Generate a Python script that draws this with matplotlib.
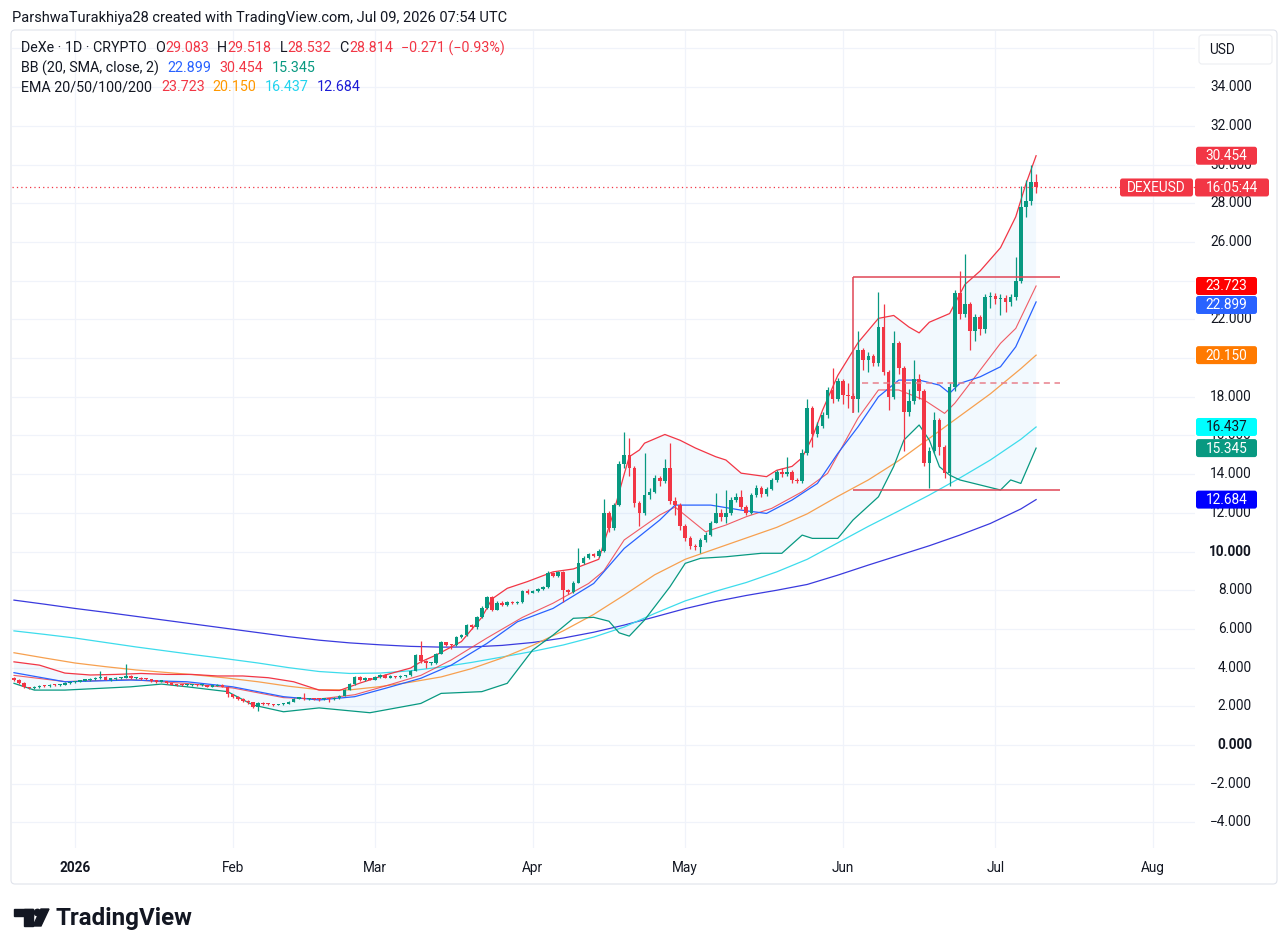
import numpy as np
import matplotlib
matplotlib.use("Agg")
import matplotlib.pyplot as plt
import matplotlib.transforms as mtransforms
from matplotlib.patches import FancyBboxPatch, Rectangle, Circle, Polygon

plt.rcParams['font.family'] = ['Roboto', 'DejaVu Sans']

W, H = 1288, 952
UP, DOWN = '#089981', '#f23645'
TXT = '#131722'

# daily candles, day 0 = 1 Jan 2026 (first candle 20 Dec 2025, last 9 Jul 2026)
first_day = -12
first_open = 3.45
closes = [
    # Dec
    3.38, 3.22, 2.98, 2.94, 3.00, 3.05, 3.03, 3.10, 3.08, 3.12, 3.20, 3.26,
    # Jan
    3.28, 3.33, 3.35, 3.40, 3.45, 3.50, 3.38, 3.40, 3.45, 3.48, 3.55, 3.45, 3.47, 3.42, 3.40, 3.30,
    3.28, 3.30, 3.20, 3.12, 3.10, 3.08, 3.10, 3.12, 3.08, 3.10, 3.02, 3.05, 3.12, 3.02, 2.62,
    # Feb
    2.50, 2.38, 2.28, 2.20, 1.95, 2.18, 2.12, 2.10, 2.08, 2.10, 2.12, 2.22, 2.40, 2.45,
    2.38, 2.40, 2.38, 2.36, 2.40, 2.38, 2.42, 2.55, 2.85, 3.15, 3.50, 3.35, 3.45, 3.38,
    # Mar
    3.52, 3.62, 3.48, 3.55, 3.50, 3.58, 3.60, 3.85, 4.65, 4.32, 4.22, 4.25, 4.72, 5.30, 5.18, 5.15,
    5.60, 5.70, 6.20, 6.08, 6.60, 7.10, 7.65, 7.00, 7.35, 7.25, 7.40, 7.35, 7.40, 7.95, 7.88,
    # Apr
    7.95, 8.05, 8.15, 8.90, 8.75, 8.92, 8.00, 7.92, 8.40, 9.40, 9.65, 9.85, 9.78, 10.05, 12.00,
    11.20, 12.40, 14.50, 15.00, 14.30, 12.50, 12.00, 12.90, 13.10, 13.80, 13.65, 14.30, 12.60, 12.40, 11.30,
    # May
    10.70, 10.30, 10.25, 10.60, 10.85, 11.50, 12.00, 11.80, 12.00, 12.65, 12.80, 12.30, 12.00, 12.90, 13.30,
    12.95, 13.25, 13.70, 14.10, 14.00, 14.10, 13.70, 13.65, 15.10, 17.40, 16.10, 16.50, 17.05, 18.35, 17.90, 18.80,
    # Jun
    18.10, 18.05, 17.90, 20.40, 19.90, 20.10, 19.75, 21.60, 19.30, 18.00, 20.80, 19.50, 17.20, 17.80, 18.90,
    18.30, 14.60, 15.20, 16.80, 15.40, 14.05, 18.50, 23.35, 22.30, 22.80, 21.40, 22.10, 21.50, 23.15, 23.20,
    # Jul
    23.05, 23.10, 22.90, 23.17, 24.00, 27.80, 28.10, 29.083, 28.814,
]
highs = [
    3.50, 3.40, 3.24, 3.02, 3.05, 3.10, 3.08, 3.14, 3.13, 3.16, 3.24, 3.30,
    3.33, 3.36, 3.40, 3.44, 3.50, 3.82, 3.55, 3.45, 3.50, 3.52, 4.18, 3.60, 3.52, 3.50, 3.45, 3.42,
    3.34, 3.35, 3.32, 3.22, 3.15, 3.13, 3.14, 3.17, 3.14, 3.14, 3.12, 3.09, 3.16, 3.14, 3.05,
    2.66, 2.53, 2.41, 2.31, 2.23, 2.22, 2.21, 2.15, 2.13, 2.14, 2.16, 2.26, 2.44, 2.50,
    2.70, 2.44, 2.43, 2.41, 2.44, 2.42, 2.46, 2.59, 2.90, 3.20, 3.56, 3.55, 3.50, 3.48,
    3.56, 3.66, 3.65, 3.60, 3.58, 3.62, 3.64, 3.90, 4.72, 5.40, 4.40, 4.30, 4.78, 5.36, 5.35, 5.22,
    5.65, 5.76, 6.28, 6.25, 6.66, 7.18, 7.72, 7.68, 7.42, 7.45, 7.46, 7.45, 7.45, 8.02, 8.05,
    8.02, 8.10, 8.22, 8.98, 8.95, 9.00, 8.98, 8.05, 8.48, 10.20, 9.75, 9.92, 9.95, 10.12, 12.70,
    12.10, 12.50, 14.70, 16.20, 15.85, 14.40, 12.60, 15.10, 13.30, 13.95, 13.90, 14.80, 15.60, 12.80, 12.50,
    11.40, 10.80, 10.40, 10.70, 11.00, 11.60, 13.00, 12.20, 13.20, 12.80, 13.00, 13.20, 12.40, 13.00, 13.45,
    13.40, 13.35, 13.80, 14.20, 14.30, 14.90, 14.20, 13.80, 15.30, 17.90, 17.50, 16.70, 17.20, 18.50, 19.50, 18.95,
    18.90, 18.70, 18.20, 21.40, 20.50, 20.30, 20.20, 23.40, 22.80, 19.40, 21.40, 20.90, 19.60, 18.40, 19.90,
    19.20, 18.40, 15.40, 17.20, 16.90, 15.50, 18.70, 23.50, 24.50, 25.40, 22.90, 22.30, 22.20, 23.30, 23.40,
    23.35, 23.30, 23.25, 23.30, 25.20, 28.90, 29.20, 29.97, 29.518,
]
lows = [
    3.33, 3.18, 2.95, 2.88, 2.90, 2.97, 2.99, 3.00, 3.04, 3.05, 3.10, 3.17,
    3.22, 3.25, 3.30, 3.33, 3.38, 3.42, 3.34, 3.33, 3.37, 3.42, 3.45, 3.42, 3.40, 3.38, 3.35, 3.27,
    3.22, 3.24, 3.17, 3.08, 3.05, 3.03, 3.04, 3.06, 3.04, 3.05, 2.98, 3.00, 3.03, 2.98, 2.50,
    2.44, 2.33, 2.22, 2.14, 1.90, 1.78, 2.07, 2.05, 2.03, 2.05, 2.07, 2.10, 2.20, 2.38,
    2.34, 2.33, 2.32, 2.28, 2.33, 2.20, 2.35, 2.40, 2.52, 2.82, 3.12, 3.30, 3.32, 3.34,
    3.35, 3.48, 3.44, 3.45, 3.46, 3.47, 3.54, 3.57, 3.82, 4.25, 4.00, 4.15, 4.20, 4.70, 5.12, 4.95,
    5.10, 5.55, 5.66, 6.00, 6.02, 6.55, 7.05, 6.95, 6.98, 7.18, 7.20, 7.30, 7.30, 7.35, 7.82,
    7.85, 7.90, 8.00, 8.12, 8.68, 8.70, 7.40, 7.80, 7.88, 8.35, 9.35, 9.60, 9.70, 9.72, 10.00,
    11.00, 11.10, 12.35, 14.30, 13.90, 12.30, 11.30, 11.90, 12.70, 13.00, 13.40, 13.55, 12.45, 11.90, 11.10,
    10.55, 10.15, 10.10, 9.90, 10.50, 10.80, 11.45, 11.60, 11.50, 11.90, 12.55, 12.20, 11.90, 11.95, 12.80,
    12.80, 12.85, 13.20, 13.60, 13.85, 13.90, 13.55, 13.55, 13.55, 15.00, 15.40, 15.90, 16.40, 16.90, 17.70, 17.80,
    17.60, 17.40, 17.20, 17.20, 19.40, 19.30, 19.60, 19.60, 19.10, 17.30, 17.90, 19.20, 15.20, 17.00, 17.60,
    17.90, 14.40, 13.30, 15.10, 15.00, 13.80, 13.40, 18.30, 22.00, 22.10, 20.40, 20.90, 21.20, 21.30, 22.60,
    22.80, 22.20, 22.40, 22.70, 23.00, 23.90, 27.30, 27.90, 28.532,
]

# Bollinger Bands (20, 2)
bb_up_days = [-12, -7, -2, 3, 8, 13, 18, 23, 28, 33, 38, 43, 48, 52, 56, 61, 66, 68, 71, 76, 80, 82, 85,
              89, 94, 98, 103, 106, 108, 109, 111, 112, 116, 119, 122, 126, 128, 131, 136, 138, 141, 143,
              145, 147, 150, 154, 158, 161, 164, 166, 168, 172, 175, 178, 182, 185, 187, 189]
bb_up = [4.30, 4.13, 3.72, 3.62, 3.65, 3.70, 3.65, 3.65, 3.57, 3.57, 3.48, 3.27, 2.84, 2.82, 3.20, 3.62,
         3.98, 4.30, 4.65, 5.35, 6.60, 7.55, 8.10, 8.45, 8.95, 9.10, 9.60, 12.10, 14.00, 14.90, 15.25,
         15.60, 16.05, 15.75, 15.35, 14.90, 14.73, 14.05, 13.87, 14.20, 14.40, 14.85, 15.90, 17.30,
         19.10, 20.80, 22.05, 22.20, 21.60, 21.30, 21.85, 22.30, 23.80, 24.50, 25.70, 27.30, 29.00, 30.454]
bb_mid_days = [-12, -2, 11, 22, 31, 41, 48, 55, 61, 68, 74, 81, 87, 94, 102, 108, 115, 118, 125, 131,
               136, 141, 146, 150, 154, 158, 162, 166, 170, 172, 174, 178, 182, 185, 189]
bb_mid = [3.74, 3.27, 3.36, 3.27, 3.01, 2.50, 2.33, 2.50, 2.93, 3.45, 4.13, 5.25, 6.37, 7.06, 8.35,
          10.16, 11.63, 12.40, 12.40, 12.14, 11.97, 12.66, 13.52, 15.07, 16.45, 18.00, 18.86, 18.86,
          18.60, 18.18, 18.69, 19.03, 19.55, 20.58, 22.899]
bb_lo_days = [-12, -8, -2, 11, 17, 22, 30, 35, 41, 48, 58, 68, 72, 80, 85, 90, 94, 98, 102, 105, 107,
              109, 112, 117, 120, 123, 128, 135, 139, 143, 145, 150, 153, 158, 161, 163, 166, 168, 170,
              172, 174, 178, 182, 184, 186, 189]
bb_lo = [3.19, 2.84, 2.84, 3.01, 3.15, 3.01, 2.76, 2.07, 1.72, 1.92, 1.67, 2.15, 2.67, 2.76, 3.19, 4.91,
         5.68, 6.55, 6.60, 6.40, 5.80, 5.63, 6.46, 8.18, 9.39, 9.65, 9.73, 9.91, 9.91, 10.85, 10.68,
         10.68, 11.63, 12.83, 14.40, 15.76, 16.54, 15.76, 14.38, 13.95, 13.70, 13.44, 13.18, 13.70,
         13.52, 15.345]

# EMA 20/50/100/200
ema20_days = [-12, -2, 11, 22, 31, 41, 48, 55, 61, 68, 74, 81, 88, 94, 101, 104, 108, 115, 118, 124,
              128, 132, 137, 143, 148, 150, 154, 158, 162, 167, 171, 173, 177, 182, 185, 189]
ema20 = [3.60, 3.28, 3.38, 3.18, 2.95, 2.45, 2.38, 2.60, 3.05, 3.60, 4.40, 5.53, 6.60, 7.33, 8.35, 9.00,
         10.60, 11.89, 12.30, 11.02, 11.37, 11.80, 12.23, 13.09, 14.04, 15.00, 16.90, 18.35, 18.35,
         17.83, 17.14, 17.66, 19.03, 20.76, 21.53, 23.723]
ema_days = [-12, -6, 0, 6, 12, 18, 24, 30, 36, 42, 48, 54, 60, 66, 72, 78, 84, 90, 96, 102, 108, 114,
            120, 126, 132, 138, 144, 150, 156, 162, 168, 174, 180, 186, 189]
ema50 = [4.77, 4.50, 4.24, 4.05, 3.88, 3.75, 3.62, 3.46, 3.27, 3.04, 2.86, 2.85, 3.02, 3.25, 3.52, 3.95,
         4.50, 5.15, 5.90, 6.75, 7.75, 8.80, 9.60, 10.15, 10.70, 11.25, 11.95, 12.85, 13.70, 14.70, 15.85,
         17.00, 18.15, 19.45, 20.150]
ema100 = [5.90, 5.72, 5.53, 5.30, 5.07, 4.86, 4.65, 4.45, 4.24, 4.00, 3.80, 3.70, 3.72, 3.84, 4.03, 4.27,
          4.55, 4.84, 5.17, 5.58, 6.10, 6.80, 7.45, 7.95, 8.40, 8.95, 9.60, 10.45, 11.30, 12.10, 12.92,
          13.80, 14.73, 15.80, 16.437]
ema200 = [7.49, 7.28, 7.06, 6.86, 6.65, 6.44, 6.23, 6.02, 5.81, 5.60, 5.42, 5.28, 5.18, 5.10, 5.06, 5.07,
          5.15, 5.30, 5.53, 5.83, 6.20, 6.62, 7.05, 7.42, 7.73, 8.00, 8.30, 8.78, 9.30, 9.80, 10.30,
          10.85, 11.45, 12.20, 12.684]

# drawn range box (Jun breakout)
box_start, box_end = 152.9, 193.7
box_top, box_bottom, box_mid = 24.19, 13.18, 18.69
box_side_low = 17.16
box_mid_start = 154.8

month_days = [0, 31, 59, 90, 120, 151, 181, 212]
month_labels = ['2026', 'Feb', 'Mar', 'Apr', 'May', 'Jun', 'Jul', 'Aug']
price_ticks = list(range(-4, 36, 2))
hidden_ticks = [20, 24]   # fully covered by the EMA labels on the scale

# ---------------------------------------------------------------------------
closes = np.array(closes)
highs = np.array(highs)
lows = np.array(lows)
days = np.arange(first_day, first_day + len(closes))
opens = np.r_[first_open, closes[:-1]]

fig = plt.figure(figsize=(W / 100, H / 100), dpi=100)
fig.patch.set_facecolor('white')
PIX = mtransforms.IdentityTransform()


def fy(y):
    return H - y


fig.add_artist(FancyBboxPatch((11, fy(884)), 1266, 854, boxstyle='round,pad=0,rounding_size=4',
                              transform=PIX, fc='white', ec='#e0e3eb', lw=0.8, zorder=-1))

ax = fig.add_axes([12 / W, fy(848) / H, 1183 / W, 817 / H])
ax.set_xlim(-12.39, 220.25)
ax.set_ylim(-5.32, 36.90)
ax.axis('off')

for v in price_ticks + [36]:
    ax.axhline(v, color='#f0f3fa', lw=0.9, zorder=0)
for d in month_days:
    ax.axvline(d, color='#f0f3fa', lw=0.9, zorder=0)

# bands + EMAs
ax.fill(np.r_[bb_up_days, bb_lo_days[::-1]], np.r_[bb_up, bb_lo[::-1]], color='#2196f3', alpha=0.055,
        lw=0, zorder=1)
ax.plot(ema_days, ema200, color='#3a3ade', lw=0.9, zorder=2)
ax.plot(ema_days, ema100, color='#3ddcec', lw=0.9, zorder=2)
ax.plot(ema_days, ema50, color='#f7a04f', lw=0.9, zorder=2)
ax.plot(ema20_days, ema20, color='#f0404a', lw=0.8, alpha=0.85, zorder=2)
ax.plot(bb_mid_days, bb_mid, color='#2962ff', lw=0.9, zorder=2)
ax.plot(bb_up_days, bb_up, color='#f23645', lw=0.9, zorder=2)
ax.plot(bb_lo_days, bb_lo, color='#089981', lw=0.9, zorder=2)

# candles
cols = np.where(closes >= opens, UP, DOWN)
ax.vlines(days, lows, highs, colors=cols, lw=0.9, zorder=3)
ax.bar(days, np.maximum(np.abs(closes - opens), 0.06), bottom=np.minimum(opens, closes), width=0.7,
       color=cols, lw=0, zorder=4)

# drawings
ax.hlines([box_top, box_bottom], box_start, box_end, color='#e04656', lw=1.1, zorder=5)
ax.vlines(box_start, box_side_low, box_top, color='#e04656', lw=1.1, zorder=5)
ax.hlines(box_mid, box_mid_start, box_end, color='#e8808c', lw=1.1, linestyles=(0, (4, 3)), zorder=5)
ax.axhline(closes[-1], color=DOWN, lw=0.9, linestyle=(0, (1, 2.5)), zorder=5)

# price scale
ytr = mtransforms.blended_transform_factory(PIX, ax.transData)
for v in price_ticks:
    if v in hidden_ticks:
        continue
    s = f"{v:.3f}".replace('-', '\u2212')
    ax.text(1252, v, s, transform=ytr, ha='right', va='center', fontsize=9.8, color=TXT,
            fontweight='bold' if v in (0, 10) else 'normal', clip_on=False, zorder=10)


def ypx(v):
    return ax.transData.transform((0, v))[1]


def tag(x0, x1, yc, text, bg, fg='white', h=18):
    fig.add_artist(FancyBboxPatch((x0, yc - h / 2), x1 - x0, h, boxstyle='round,pad=0,rounding_size=2.5',
                                  transform=PIX, fc=bg, ec='none', zorder=6))
    fig.text((x0 + x1) / 2, yc - 0.5, text, transform=PIX, ha='center', va='center', color=fg,
             fontsize=9.8, zorder=7)


tag(1196, 1257, ypx(bb_up[-1]), f"{bb_up[-1]:.3f}", '#f23645')
tag(1120, 1193, ypx(closes[-1]), 'DEXEUSD', '#f23645')
tag(1195, 1269, ypx(closes[-1]), '16:05:44', '#f23645')
tag(1196, 1257, ypx(ema20[-1]), f"{ema20[-1]:.3f}", '#ff0000')
tag(1196, 1257, ypx(ema20[-1]) - 19, f"{bb_mid[-1]:.3f}", '#2962ff')
tag(1196, 1257, ypx(ema50[-1]), f"{ema50[-1]:.3f}", '#ff7a00')
tag(1196, 1257, ypx(ema100[-1]), f"{ema100[-1]:.3f}", '#00ffff', fg=TXT)
tag(1196, 1257, ypx(bb_lo[-1]), f"{bb_lo[-1]:.3f}", '#089981')
tag(1196, 1257, ypx(ema200[-1]), f"{ema200[-1]:.3f}", '#0000ff')

fig.add_artist(FancyBboxPatch((1199, fy(64)), 73, 29, boxstyle='round,pad=0,rounding_size=3',
                              transform=PIX, fc='white', ec='#eceef2', lw=0.8, zorder=6))
fig.text(1209, fy(50), 'USD', transform=PIX, ha='left', va='center', fontsize=9.8, color=TXT, zorder=7)

# time scale
xtr = mtransforms.blended_transform_factory(ax.transData, PIX)
for d, lab in zip(month_days, month_labels):
    ax.text(d, fy(868), lab, transform=xtr, ha='center', va='center', fontsize=9.8, color=TXT,
            fontweight='bold' if lab == '2026' else 'normal', clip_on=False)

# header + legend
fig.text(12, fy(18), 'ParshwaTurakhiya28 created with TradingView.com, Jul 09, 2026 07:54 UTC',
         transform=PIX, ha='left', va='center', fontsize=10.5, color=TXT)

renderer = fig.canvas.get_renderer()


def row(y, parts):
    x = 21
    for txt, col, gap in parts:
        t = fig.text(x, fy(y), txt, transform=PIX, ha='left', va='center', fontsize=10.3, color=col, zorder=8)
        x = t.get_window_extent(renderer=renderer).x1 + gap


row(48, [('DeXe \u00b7 1D \u00b7 CRYPTO', TXT, 8), ('O', TXT, 0.5), ('29.083', DOWN, 8), ('H', TXT, 0.5),
         ('29.518', DOWN, 8), ('L', TXT, 0.5), ('28.532', DOWN, 8), ('C', TXT, 0.5), ('28.814', DOWN, 8),
         ('\u22120.271 (\u22120.93%)', DOWN, 0)])
row(68, [('BB (20, SMA, close, 2)', TXT, 9), ('22.899', '#2962ff', 8), ('30.454', DOWN, 8),
         ('15.345', UP, 0)])
row(87, [('EMA 20/50/100/200', TXT, 9), ('23.723', '#f23645', 8), ('20.150', '#ff9800', 8),
         ('16.437', '#22d3ee', 8), ('12.684', '#1c1cd6', 0)])

# TradingView logo
logo = '#131722'
fig.add_artist(Rectangle((14, fy(916)), 19, 7, transform=PIX, color=logo))
fig.add_artist(Rectangle((24, fy(926)), 9, 17, transform=PIX, color=logo))
fig.add_artist(Circle((37.5, fy(912.5)), 3.2, transform=PIX, color=logo))
fig.add_artist(Polygon([(41, fy(909)), (49, fy(909)), (41, fy(926)), (33, fy(926))], transform=PIX,
                       color=logo))
fig.text(56, fy(918), 'TradingView', transform=PIX, ha='left', va='center', fontsize=17.4,
         fontweight='bold', color=logo)

fig.savefig('out.png', dpi=100)
